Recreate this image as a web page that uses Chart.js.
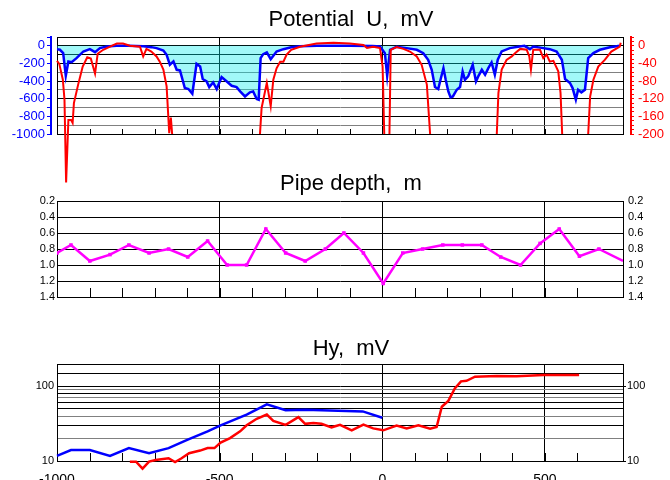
<!DOCTYPE html>
<html>
<head>
<meta charset="utf-8">
<script src="https://cdn.jsdelivr.net/npm/chart.js@4.4.1/dist/chart.umd.min.js"></script>
<style>
  html, body { margin: 0; padding: 0; background: #fff; overflow: hidden; }
  #wrap { position: relative; width: 670px; height: 480px; }
  canvas { position: absolute; left: 0; }
  .ttl { position: absolute; left: 0; width: 702px; text-align: center; font: 22px Arial, "Liberation Sans", sans-serif; line-height: 26px; color: #000; white-space: pre; }
</style>
</head>
<body>
<div id="wrap">
  <canvas id="c-u" width="670" height="190" style="top:0px"></canvas>
  <canvas id="c-depth" width="670" height="150" style="top:160px"></canvas>
  <canvas id="c-hy" width="670" height="160" style="top:320px"></canvas>
  <div class="ttl" style="top:6px">Potential  U,  mV</div>
  <div class="ttl" style="top:170px">Pipe depth,  m</div>
  <div class="ttl" style="top:335px">Hy,  mV</div>
</div>
<script>
// shared distance axis (m)
const X_MIN = -1000;
const X_MAX = 740;

// Potential U: blue (left scale, mV) and red (right scale, mV)
const uBlueX = [-1000, -991, -981, -973, -965, -955, -940, -919, -899, -883, -868, -847, -817, -780, -735, -710, -694, -673, -663, -653, -642, -632, -622, -607, -596, -584, -571, -560, -552, -540, -532, -520, -509, -494, -478, -463, -448, -437, -422, -407, -397, -386, -380, -374, -366, -355, -343, -325, -304, -280, -253, -200, -100, -30, -7, 8, 15, 24, 44, 75, 106, 126, 141, 152, 162, 172, 179, 188, 195, 203, 210, 217, 229, 239, 247, 254, 264, 278, 288, 295, 306, 316, 326, 336, 346, 355, 367, 392, 422, 437, 454, 464, 495, 515, 536, 552, 562, 577, 585, 595, 602, 612, 623, 633, 649, 669, 700, 730];
const uBlueV = [-40, -45, -83, -340, -177, -185, -140, -64, -38, -72, -26, -8, 0, 2, -5, -15, -26, -53, -102, -215, -177, -272, -279, -479, -490, -543, -204, -234, -377, -404, -468, -415, -490, -354, -404, -453, -468, -517, -574, -528, -517, -603, -611, -140, -94, -75, -151, -64, -38, -17, -5, 0, 2, -3, -8, -83, -340, -45, -10, -26, -45, -83, -158, -272, -468, -490, -385, -253, -385, -517, -585, -574, -498, -468, -291, -385, -347, -215, -404, -347, -272, -328, -253, -189, -328, -158, -64, -26, -8, 0, -38, -8, -26, -38, -64, -158, -377, -422, -479, -611, -498, -528, -498, -140, -83, -45, -17, 0];

const uRedX = [-1000, -993, -982, -977, -972, -965, -957, -952, -948, -935, -921, -907, -896, -883, -875, -858, -837, -816, -797, -776, -745, -735, -725, -710, -694, -684, -673, -663, -655, -650, -646, -600, -376, -371, -355, -343, -335, -325, -314, -304, -294, -280, -253, -202, -150, -100, -58, -47, -28, -7, 1, 6, 14, 22, 26, 44, 65, 85, 106, 121, 137, 147, 250, 352, 357, 367, 382, 398, 408, 424, 444, 452, 457, 464, 485, 495, 505, 515, 526, 541, 548, 553, 590, 633, 639, 649, 664, 684, 704, 730, 733];
const uRedV = [-34, -41, -77, -122, -310, -168, -168, -175, -130, -88, -47, -26, -29, -63, -18, -9, -2, 5, 5, 0, -2, -24, -7, -13, -24, -36, -54, -92, -198, -163, -200, null, -200, -141, -84, -137, -77, -51, -36, -36, -20, -9, -2, 5, 7, 5, 2, -5, -2, -5, -47, -200, null, -200, -9, -3, -7, -13, -24, -43, -88, -200, null, -200, -107, -54, -32, -24, -17, -7, -9, -24, -54, -9, -9, -28, -20, -36, -34, -58, -107, -200, null, -200, -115, -77, -47, -32, -13, -2, 7];

// Pipe depth (m)
const depthX = [-1000, -957, -899, -837, -779, -717, -657, -598, -537, -477, -417, -358, -297, -237, -175, -118, -58, 3, 63, 124, 186, 246, 306, 364, 425, 485, 544, 606, 666, 740];
const depthV = [0.85, 0.75, 0.95, 0.87, 0.75, 0.85, 0.80, 0.90, 0.70, 1.0, 1.0, 0.55, 0.85, 0.95, 0.80, 0.60, 0.85, 1.23, 0.85, 0.80, 0.75, 0.75, 0.75, 0.90, 1.0, 0.73, 0.55, 0.89, 0.80, 0.95];

// Hy (mV, log scale)
const hyBlueX = [-1000, -957, -899, -837, -779, -717, -657, -598, -537, -497, -417, -355, -297, -237, -60, 0];
const hyBlueV = [11.7, 14.0, 14.0, 11.7, 14.9, 12.7, 14.9, 19.3, 25, 30.1, 42, 57.5, 48, 48.5, 46.3, 38];
const hyRedX = [-776, -757, -737, -717, -697, -657, -637, -617, -594, -560, -537, -516, -497, -468, -437, -417, -386, -355, -335, -297, -258, -237, -212, -187, -156, -130, -94, -58, -28, 3, 44, 75, 111, 147, 167, 183, 203, 223, 242, 259, 285, 352, 413, 495, 605];
const hyRedV = [9.8, 9.8, 7.9, 9.8, 10.3, 10.9, 9.7, 10.9, 12.7, 13.8, 14.9, 14.9, 17.7, 20.3, 25.0, 30.1, 36.8, 42, 34.5, 30.5, 38.7, 31.5, 32.4, 31.5, 28.3, 30.5, 25.8, 30.8, 27.4, 25.8, 29.8, 27.4, 30.1, 27.2, 28.6, 53.4, 63.9, 94, 117, 119, 135, 138, 137, 142, 142];

// log grid lines that look lighter in the original
const hyLightGrid = [20, 40, 70, 90];

Chart.defaults.font.family = 'Arial, "Liberation Sans", sans-serif';
Chart.defaults.color = '#000';

const pts = (xs, vs) => xs.map((x, i) => ({ x, y: vs[i] }));
const CLEAR = 'rgba(0,0,0,0)';
const LIGHT = '#808080';

// short ticks pointing up from the bottom frame, every 100 m
const innerTicks = {
  id: 'innerTicks',
  beforeDatasetsDraw(chart, args, opts) {
    const xs = chart.scales.x, area = chart.chartArea, ctx = chart.ctx;
    ctx.save();
    ctx.strokeStyle = '#000';
    ctx.lineWidth = 1;
    ctx.beginPath();
    xs.ticks.forEach(t => {
      if (t.value % 100 !== 0 || t.value <= xs.min || t.value >= xs.max) return;
      const px = Math.round(xs.getPixelForValue(t.value)) + 0.5;
      ctx.moveTo(px, area.bottom);
      ctx.lineTo(px, area.bottom - opts.len);
    });
    ctx.stroke();
    ctx.restore();
  }
};

function xAxis(showLabels, h) {
  return {
    type: 'linear', min: X_MIN, max: X_MAX,
    afterFit: s => { s.height = h; },
    border: { color: '#000' },
    grid: {
      drawTicks: false,
      color: c => (c.tick && c.tick.value % 500 === 0 && c.tick.value > X_MIN && c.tick.value < X_MAX) ? '#000' : CLEAR
    },
    ticks: {
      display: showLabels, stepSize: 100, padding: 11, maxRotation: 0, autoSkip: false,
      color: '#000', font: { size: 14 },
      callback: v => v % 500 === 0 ? String(v) : ''
    }
  };
}

const baseOpts = (top, tickLen) => ({
  responsive: false,
  animation: false,
  events: [],
  layout: { padding: { left: 0, right: 0, top, bottom: 0 } },
  plugins: { legend: { display: false }, tooltip: { enabled: false }, title: { display: false }, innerTicks: { len: tickLen } }
});

// Potential U
new Chart(document.getElementById('c-u'), {
  type: 'line',
  data: {
    datasets: [
      { data: pts(uRedX, uRedV), yAxisID: 'yr', borderColor: '#ff0000', borderWidth: 2, pointRadius: 0, tension: 0, clip: false, fill: false },
      { data: pts(uBlueX, uBlueV), yAxisID: 'y', borderColor: '#0000ff', borderWidth: 2.5, pointRadius: 0, tension: 0,
        fill: { value: 0 }, backgroundColor: 'rgba(0,236,236,0.37)' }
    ]
  },
  options: {
    ...baseOpts(37, 5),
    scales: {
      x: xAxis(false, 56),
      yf: { position: 'left', weight: 0, min: -1000, max: 100, afterFit: s => { s.width = 6; },
        border: { color: '#000' },
        grid: { drawTicks: false, color: c => (c.tick && c.tick.value % 200 !== 0 && c.tick.value < -100) ? LIGHT : '#000' },
        ticks: { display: false, stepSize: 100 } },
      y: { position: 'left', weight: 1, min: -1000, max: 100, afterFit: s => { s.width = 51; },
        border: { color: '#0000ff', width: 2 }, grid: { drawOnChartArea: false, tickColor: '#0000ff', tickLength: 4 },
        ticks: { stepSize: 100, padding: 2, autoSkip: false, color: '#0000ff', font: { size: 13 }, callback: v => v % 200 === 0 ? String(v) : '' } },
      yf2: { position: 'right', weight: 0, min: -200, max: 20, afterFit: s => { s.width = 8; },
        border: { color: '#000' }, grid: { display: false }, ticks: { display: false } },
      yr: { position: 'right', weight: 1, min: -200, max: 20, afterFit: s => { s.width = 39; },
        border: { color: '#ff0000', width: 2 }, grid: { drawOnChartArea: false, tickColor: '#ff0000', tickLength: 3 },
        ticks: { stepSize: 10, padding: 4, autoSkip: false, color: '#ff0000', font: { size: 13 }, callback: v => v % 40 === 0 ? String(v) : '' } }
    }
  },
  plugins: [innerTicks]
});

// Pipe depth
new Chart(document.getElementById('c-depth'), {
  type: 'line',
  data: {
    datasets: [
      { data: pts(depthX, depthV), borderColor: '#ff00ff', backgroundColor: '#ff00ff', borderWidth: 2.5, tension: 0,
        pointStyle: 'rect', pointRadius: c => c.dataIndex === depthX.length - 1 ? 0 : 2.5, pointBorderWidth: 0 }
    ]
  },
  options: {
    ...baseOpts(41, 9),
    scales: {
      x: xAxis(false, 13),
      y: { position: 'left', reverse: true, min: 0.2, max: 1.4, afterFit: s => { s.width = 57; },
        border: { color: '#000' }, grid: { color: '#000', drawTicks: false },
        ticks: { stepSize: 0.2, padding: 2, autoSkip: false, color: '#000', font: { size: 11 }, callback: v => v.toFixed(1) } },
      y2: { position: 'right', reverse: true, min: 0.2, max: 1.4, afterFit: s => { s.width = 47; },
        border: { color: '#000' }, grid: { drawOnChartArea: false, drawTicks: false },
        ticks: { stepSize: 0.2, padding: 5, autoSkip: false, color: '#000', font: { size: 11 }, callback: v => v.toFixed(1) } }
    }
  },
  plugins: [innerTicks]
});

// Hy
const isDecade = v => Math.abs(v - 10) < 1e-6 || Math.abs(v - 100) < 1e-6;
new Chart(document.getElementById('c-hy'), {
  type: 'line',
  data: {
    datasets: [
      { data: pts(hyBlueX, hyBlueV), borderColor: '#0000ff', borderWidth: 2.5, pointRadius: 0, tension: 0, clip: false },
      { data: pts(hyRedX, hyRedV), borderColor: '#ff0000', borderWidth: 2.5, pointRadius: 0, tension: 0, clip: false }
    ]
  },
  options: {
    ...baseOpts(44, 8),
    scales: {
      x: xAxis(true, 19),
      y: { type: 'logarithmic', position: 'left', min: 10, max: 200, afterFit: s => { s.width = 57; },
        border: { color: '#000' },
        grid: { drawTicks: false, color: c => (c.tick && hyLightGrid.some(g => Math.abs(c.tick.value - g) < 1e-6)) ? LIGHT : '#000' },
        ticks: { padding: 3, autoSkip: false, color: '#000', font: { size: 11 }, callback: v => isDecade(v) ? String(Math.round(v)) : '' } },
      y2: { type: 'logarithmic', position: 'right', min: 10, max: 200, afterFit: s => { s.width = 47; },
        border: { color: '#000' },
        grid: { drawOnChartArea: false, tickLength: 3, tickColor: c => (c.tick && isDecade(c.tick.value)) ? '#000' : CLEAR },
        ticks: { padding: 1, autoSkip: false, color: '#000', font: { size: 11 }, callback: v => isDecade(v) ? String(Math.round(v)) : '' } }
    }
  },
  plugins: [innerTicks]
});
</script>
</body>
</html>
